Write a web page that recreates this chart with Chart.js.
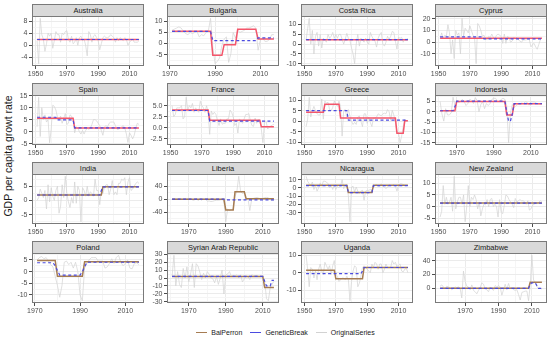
<!DOCTYPE html>
<html><head><meta charset="utf-8">
<script src="https://cdn.jsdelivr.net/npm/chart.js@4.4.1/dist/chart.umd.min.js"></script>
<style>
html,body{margin:0;padding:0;background:#fff}
body{width:550px;height:344px;position:relative;overflow:hidden;font-family:"Liberation Sans",Arial,sans-serif}
.strip{position:absolute;background:#d9d9d9;border:1px solid #7a7a7a;box-sizing:border-box;font-size:7.5px;line-height:11px;color:#1a1a1a;text-align:center;white-space:nowrap}
canvas{position:absolute}
#ytitle{position:absolute;left:8px;top:156px;transform:translate(-50%,-50%) rotate(-90deg);font-size:10.5px;color:#1a1a1a;white-space:nowrap}
#legend{position:absolute;left:32px;width:515px;top:329px;display:flex;justify-content:center;align-items:center;font-size:7px;color:#1a1a1a}
#legend .k{display:inline-block;width:11px;height:1.3px;margin-right:4px}
#legend .it{display:flex;align-items:center;margin-right:8px}
</style></head>
<body>
<div id="ytitle">GDP per capita growt rate</div>
<div id="legend"></div>
<script>
// ---------- DATA ----------
const countries = ["Australia","Bulgaria","Costa Rica","Cyprus","Spain","France","Greece","Indonesia","India","Liberia","Nicaragua","New Zealand","Poland","Syrian Arab Republic","Uganda","Zimbabwe"];
const firstYears = [1951,1971,1951,1951,1951,1951,1951,1961,1951,1961,1951,1951,1971,1961,1951,1955];
const xTickYears = [1950,1970,1990,2010];

const australia = [1.5,-6.1,8.9,3.5,2.0,-2.0,0.5,4.0,3.0,4.0, -1.0,1.5,4.5,3.5,3.5,1.0,4.0,3.5,4.5,4.8, 2.0,1.0,3.0,0.5,1.0,2.5,0.0,2.5,3.0,1.5, 2.0,0.0,-3.5,4.5,3.5,1.0,3.0,3.5,2.5,1.5, -1.5,0.5,2.5,3.0,2.5,2.5,2.8,3.5,3.0,2.5, 1.0,2.5,1.5,2.5,2.0,1.5,2.5,2.0,0.0,1.0, 1.5,2.0,1.0,1.0,1.0,1.5];
const bulgaria = [6.0,6.5,7.0,7.5,7.0,5.5,4.5,4.0,5.0,4.5, 5.0,5.5,3.0,4.0,3.5,5.0,5.5,11.4,-1.5,-9.1, -8.0,-6.5,-1.0,2.0,3.0,-8.5,-4.5,5.0,2.5,6.0, 5.0,5.5,6.0,7.0,7.0,7.5,8.0,7.0,-3.0,1.5, 2.5,1.0,1.0,1.8,4.0,4.0];
const costaRica = [2.0,8.0,13.2,0.0,7.0,-5.0,4.0,6.0,-1.0,5.0, -2.0,3.0,2.0,1.0,5.0,3.0,4.0,6.0,3.0,5.0, 3.0,5.0,5.0,2.5,0.0,2.5,5.5,3.0,2.0,-2.0, -5.0,-10.0,0.0,5.0,-1.0,3.0,2.0,1.0,3.0,1.0, 0.0,6.0,4.0,2.5,1.5,-1.5,3.0,5.0,6.0,0.0, -1.0,1.0,4.0,2.5,4.0,6.5,6.0,1.5,-2.5,3.5, 3.0,3.5,1.0,2.5,2.5,3.0];
const cyprus = [3.0,8.0,3.0,6.0,5.0,15.0,8.0,-10.0,2.0,-14.0, 10.0,6.0,8.0,-10.0,20.5,5.0,12.0,10.0,8.0,14.0, 10.0,6.0,4.0,-18.4,16.0,14.0,10.0,5.0,6.0,3.0, 2.0,5.0,4.0,7.0,4.0,3.0,6.0,7.0,6.0,5.0, -1.0,7.0,-1.0,5.0,4.0,0.0,1.0,4.0,3.0,4.0, 2.0,1.0,0.0,2.0,2.0,2.0,3.0,2.0,-4.0,-2.0, -1.0,-4.0,-6.0,-2.0,2.0,4.0];
const spain = [2.0,14.3,-2.0,10.0,5.0,7.0,4.0,5.0,-4.6,1.0, 11.0,10.5,9.0,6.0,5.0,6.5,3.5,5.5,7.5,3.0, 3.5,7.0,6.5,4.5,-0.5,2.0,1.5,0.0,-1.0,0.5, -1.0,0.5,1.5,1.0,1.5,3.0,5.0,5.0,4.5,3.5, 2.5,0.5,-1.5,2.0,2.5,2.0,3.5,4.0,4.0,4.0, 2.5,1.0,1.0,1.5,2.0,2.5,1.5,-1.0,-4.5,-0.5, -1.5,-3.0,-1.5,1.5,3.5,3.0];
const france = [5.0,2.5,3.0,4.5,4.5,4.5,5.0,2.0,2.5,6.9, 4.0,5.0,4.5,5.5,3.5,4.5,4.0,3.5,6.0,5.0, 4.5,3.5,5.0,3.5,-1.5,3.8,3.0,3.5,3.0,1.5, 0.5,2.0,0.8,1.0,1.0,2.0,2.0,4.0,3.5,2.5, 0.5,1.0,-1.2,2.0,1.5,1.0,2.0,3.0,3.0,3.2, 1.5,0.5,0.3,2.2,1.0,1.8,1.8,-0.5,-3.4,1.5, 1.5,-0.3,0.1,0.4,0.6,0.8];
const greece = [-2.5,1.0,11.3,2.0,5.0,7.0,5.0,3.5,3.0,3.0, 10.5,1.0,9.5,8.5,9.0,5.5,5.0,6.5,9.5,8.0, 7.0,9.5,7.0,-7.0,5.0,5.5,2.0,5.5,2.5,0.0, -1.5,-0.5,-1.5,2.0,2.5,0.0,-2.5,3.5,3.5,-1.0, 2.0,-0.5,-2.5,1.5,1.5,2.0,3.5,3.0,2.5,3.5, 3.8,3.5,5.5,4.5,0.5,5.2,3.0,-0.5,-4.5,-5.5, -10.1,-7.0,-2.5,1.0,0.0,0.0];
const indonesia = [5.0,-1.0,-4.5,1.5,-1.5,-1.5,-0.5,7.0,3.0,5.5, 4.5,5.0,6.0,5.0,3.0,4.0,6.0,5.5,4.0,6.8, 5.5,0.0,3.5,5.0,1.5,4.0,3.0,4.0,6.0,6.5, 6.5,5.0,5.0,6.0,6.5,6.0,3.0,-14.9,-0.5,3.5, 2.0,3.0,3.5,3.5,4.2,4.0,4.8,4.6,3.2,4.8, 4.8,4.7,4.2,3.6,3.5,3.7];
const india = [0.0,1.0,4.0,2.5,1.0,3.5,-3.0,5.5,-0.5,4.5, 1.5,0.0,3.5,5.0,-4.5,-2.0,5.5,1.0,8.5,2.5, -0.5,-2.5,1.0,-1.0,6.5,-1.0,5.0,3.5,-7.5,4.5, 3.5,1.5,5.0,1.5,3.0,2.5,1.5,7.5,3.5,3.5, -1.5,3.5,2.5,4.5,5.5,5.5,2.0,4.0,7.0,2.0, 3.0,2.0,6.0,6.0,7.5,7.0,8.0,2.0,6.5,8.0, 3.5,4.0,5.0,6.0,6.5,6.0];
const liberia = [2,1,3,0,1,2,0,1,3,2, 1,-2,-3,3,-4,1,-3,2,1,-6, -5,-7,-6,-4,-3,-3,-2,-1,-5,-70, -30,-35,-32,-32,8,25,72,25,18,20, 0,2,-35,0,3,5,6,3,2,3, 5,6,5,-2,-3,-4];
const nicaragua = [14,8,5,3,7,-2,3,-4,0,6, 2,8,8,7,5,0,3,-2,3,-2, 2,0,2,10,-1,3,4,-10,-41,1, 2,-5,1,-4,-7,-4,-3,-15,-4,-3, -3,-2,-3,1,3,4,2,2,5,2, 1,-1,1,4,3,3,4,2,-4,3, 5,5,4,3,3,3];
const newZealand = [-4.5,-2,9,1,4,1,2,4,-2,13, -1,2,4,4,1,5,-6.5,0,9,0, 4,3,5,3,-1,2,-4,-1,1,1, 3,0,3,3.5,0,1,0,-4.5,3,-2.5, -3,0.5,5,4.5,3,2,1,-0.5,3.5,2, 2.5,3,2.5,2.5,2,1,2.5,-1.5,-1,0.5, 1,1.5,1.5,1.8,2.5,2];
const poland = [5,6,6.5,5.5,6,4.5,3,2,-2,-6, -11,-6,4,4.5,3,4,1.5,4,0,-10, -12.5,1.5,3.5,5,6,6,6,4.5,4.5,4.5, 1.5,2,3.5,5.5,3.5,6,7,4,2.5,3.5, 5,1.5,1.2,3.5,3.8,3];
const syria = [2,28.5,-10,8,-8,-12,12,0,14,-5, 5,18,-12,18,15,7,-2,6,0,8, 5,0,-1,-6,2,-8,0,10,-20,4, 5,8,2,3,2,4,0,4,-5,-1, 2,2,-2,4,3,3,3,2,3,1, -4,-26,-28.5,-12,-8,-4];
const uganda = [10,2,-8,3,2,-3,1,-4,2,5, 1,-1,6,4,2,4,-1,4,7,-1, -2,-5,-4,-3,-3,-4,-2,-4,-16,-5, 1,4,3,-8,-6,-2,3,4,3,2, 1,0,5,3,6,5,2,5,5,0, 2,5,3,3,3,7,5,6,3.5,4.5, 5,1,0.5,2,2.5,0];
const zimbabwe = [3,5,2,-1,3,2,1,-2,0,2, 1,2,0,-14,25,10,3,2,-2,5, -3,-5,-8,-3,1,8,6,-1,-2,-5, 2,-1,-3,4,2,4,2,-10,-2,6, -2,7,0,1,-2,-3,-2,-9,-17,-6, -5,-4,-4,-18,5,48,12,9,2,1, 0,-1];

// break segments: [fromYear, toYear, level]
const australiaBP = [[1951,2016,1.9]];            const australiaGB = [[1951,2016,1.9]];
const bulgariaBP = [[1971,1988,5.5],[1989,1993,-5.3],[1994,1999,-0.5],[2000,2008,6.5],[2009,2016,2.0]];
const bulgariaGB = [[1971,1988,5.5],[1989,2008,1.3],[2009,2016,2.6]];
const costaRicaBP = [[1951,2016,2.3]];            const costaRicaGB = [[1951,2016,2.3]];
const cyprusBP = [[1951,2016,3.5]];               const cyprusGB = [[1951,1978,4.6],[1979,2016,2.8]];
const spainBP = [[1951,1974,5.6],[1975,2016,1.5]];
const spainGB = [[1951,1963,6.0],[1964,1974,4.9],[1975,2016,1.6]];
const franceBP = [[1951,1974,4.0],[1975,2007,1.7],[2008,2016,0.2]];
const franceGB = [[1951,1974,3.9],[1975,2016,1.5]];
const greeceBP = [[1951,1962,4.2],[1963,1972,8.0],[1973,2008,1.5],[2009,2013,-5.6],[2014,2016,0.3]];
const greeceGB = [[1951,1977,5.0],[1978,2016,0.5]];
const indonesiaBP = [[1961,1969,0.5],[1970,1996,5.0],[1997,2000,-1.5],[2001,2016,3.9]];
const indonesiaGB = [[1961,1968,0.5],[1969,1969,2.5],[1970,1996,5.1],[1997,1997,0],[1998,1999,-4.5],[2000,2000,-1],[2001,2016,3.9]];
const indiaBP = [[1951,1992,1.9],[1993,2016,4.8]];
const indiaGB = [[1951,1991,1.9],[1992,1992,3.5],[1993,2016,4.8]];
const liberiaBP = [[1961,1989,0],[1990,1994,-33],[1995,2000,24],[2001,2016,2]];
const liberiaGB = [[1961,1989,0.5],[1990,2016,-1.5]];
const nicaraguaBP = [[1951,1977,3],[1978,1993,-5.5],[1994,2016,3]];
const nicaraguaGB = [[1951,1977,2.7],[1978,1993,-5.8],[1994,2016,2.8]];
const newZealandBP = [[1951,2016,1.5]];           const newZealandGB = [[1951,2016,1.5]];
const polandBP = [[1971,1979,4.8],[1980,1991,-2],[1992,2016,4.2]];
const polandGB = [[1971,1978,3.8],[1979,1979,2.5],[1980,1980,0.5],[1981,1990,-1.5],[1991,1991,0],[1992,1992,2],[1993,2016,4.0]];
const syriaBP = [[1961,2010,2],[2011,2016,-12]];
const syriaGB = [[1961,2010,2],[2011,2011,-4],[2012,2014,-10],[2015,2016,-3]];
const ugandaBP = [[1951,1969,1.5],[1970,1987,-3.5],[1988,2016,3]];
const ugandaGB = [[1951,1986,-0.5],[1987,1987,1],[1988,2016,3]];
const zimbabweBP = [[1955,2008,0],[2009,2016,9]];
const zimbabweGB = [[1955,2008,0],[2009,2009,6],[2010,2012,8],[2013,2013,4],[2014,2016,0]];

// y tick labels per panel
const yTicksAustralia = [-4,0,4,8];
const yTicksBulgaria = [-5,0,5,10];
const yTicksCostaRica = [-10,-5,0,5,10];
const yTicksCyprus = [-10,0,10,20];
const yTicksSpain = [-5,0,5,10,15];
const yTicksFrance = [-2.5,0,2.5,5];
const yTicksGreece = [-10,-5,0,5,10];
const yTicksIndonesia = [-15,-10,-5,0,5];
const yTicksIndia = [-5,0,5];
const yTicksLiberia = [-40,0,40];
const yTicksNicaragua = [-30,-20,-10,0,10];
const yTicksNewZealand = [-5,0,5,10];
const yTicksPoland = [-10,-5,0,5];
const yTicksSyria = [-30,-20,-10,0,10,20,30];
const yTicksUganda = [-10,0,10];
const yTicksZimbabwe = [0,20,40];

const seriesList = [australia,bulgaria,costaRica,cyprus,spain,france,greece,indonesia,india,liberia,nicaragua,newZealand,poland,syria,uganda,zimbabwe];
const bpList = [australiaBP,bulgariaBP,costaRicaBP,cyprusBP,spainBP,franceBP,greeceBP,indonesiaBP,indiaBP,liberiaBP,nicaraguaBP,newZealandBP,polandBP,syriaBP,ugandaBP,zimbabweBP];
const gbList = [australiaGB,bulgariaGB,costaRicaGB,cyprusGB,spainGB,franceGB,greeceGB,indonesiaGB,indiaGB,liberiaGB,nicaraguaGB,newZealandGB,polandGB,syriaGB,ugandaGB,zimbabweGB];
const yTickList = [yTicksAustralia,yTicksBulgaria,yTicksCostaRica,yTicksCyprus,yTicksSpain,yTicksFrance,yTicksGreece,yTicksIndonesia,yTicksIndia,yTicksLiberia,yTicksNicaragua,yTicksNewZealand,yTicksPoland,yTicksSyria,yTicksUganda,yTicksZimbabwe];

// ---------- STYLE / LAYOUT ----------
const FONT = '"Liberation Sans", Arial, sans-serif';
const colLeft = [32,167,301,435];
const stripTop = [4,83,162,241];
const PW = 112, PH = 50, SH = 12, YW = 30, XH = 16, PADT = 6, PADR = 8;
const redBP = '#f4566b', brownBP = '#a67c52', blueGB = '#4b4be0', greyOS = '#d2d2d2';

const panelBorder = {
  id:'panelBorder',
  afterDraw(chart){
    const {ctx, chartArea:a} = chart;
    ctx.save(); ctx.strokeStyle='#7a7a7a'; ctx.lineWidth=1;
    ctx.strokeRect(Math.round(a.left)+0.5, Math.round(a.top)+0.5, Math.round(a.right-a.left)-1, Math.round(a.bottom-a.top)-1);
    ctx.restore();
  }
};

function expand(segs){
  const pts=[];
  segs.forEach(s=>{ for(let y=s[0]; y<=s[1]; y++) pts.push({x:y, y:s[2]}); });
  return pts;
}

function minorBetween(major, lo, hi){
  const step = major[1]-major[0];
  const all = [];
  for(let v = major[0]-step/2; v <= major[major.length-1]+step/2+1e-9; v += step/2){
    const r = Math.round(v*1000)/1000;
    if(r>=lo && r<=hi) all.push(r);
  }
  return all;
}

countries.forEach((name,i)=>{
  const r = Math.floor(i/4), c = i%4;
  const vals = seriesList[i];
  const y0 = firstYears[i], y1 = y0 + vals.length - 1;
  const orig = vals.map((v,k)=>({x:y0+k, y:v}));
  const bp = expand(bpList[i]), gb = expand(gbList[i]);
  const allY = vals.concat(bp.map(p=>p.y), gb.map(p=>p.y));
  const lo = Math.min(...allY), hi = Math.max(...allY);
  const ymin = lo - 0.05*(hi-lo), ymax = hi + 0.05*(hi-lo);
  const xmin = y0 - 0.05*(y1-y0), xmax = y1 + 0.05*(y1-y0);
  const yMaj = yTickList[i];
  const yAll = minorBetween(yMaj, ymin, ymax);
  const xAll = [1940,1950,1960,1970,1980,1990,2000,2010,2020].filter(v=>v>=xmin && v<=xmax);
  const dec = yMaj.some(v=>!Number.isInteger(v));
  const isYMaj = v => yMaj.some(m=>Math.abs(m-v)<1e-9);
  const isXMaj = v => xTickYears.includes(v);

  const strip = document.createElement('div');
  strip.className='strip'; strip.textContent=name;
  strip.style.left=colLeft[c]+'px'; strip.style.top=stripTop[r]+'px';
  strip.style.width=PW+'px'; strip.style.height=(SH+1)+'px';
  document.body.appendChild(strip);

  const cv = document.createElement('canvas');
  const W = YW+PW+PADR, H = PADT+PH+XH;
  cv.width=W; cv.height=H; cv.style.width=W+'px'; cv.style.height=H+'px';
  cv.style.left=(colLeft[c]-YW)+'px'; cv.style.top=(stripTop[r]+SH-PADT)+'px';
  document.body.appendChild(cv);

  const bpColor = r<2 ? redBP : brownBP;
  new Chart(cv, {
    type:'line',
    data:{datasets:[
      {label:'GeneticBreak', data:gb, borderColor:blueGB, borderWidth:1.2, borderDash:[3,2.5], pointRadius:0, fill:false},
      {label:'BaiPerron', data:bp, borderColor:bpColor, borderWidth:1.5, pointRadius:0, fill:false},
      {label:'OriginalSeries', data:orig, borderColor:greyOS, borderWidth:0.7, pointRadius:0, fill:false}
    ]},
    options:{
      responsive:false, animation:false, devicePixelRatio:1,
      layout:{padding:{top:PADT,right:PADR,left:0,bottom:0}},
      plugins:{legend:{display:false}, tooltip:{enabled:false}},
      scales:{
        x:{type:'linear', min:xmin, max:xmax,
          afterBuildTicks:s=>{s.ticks = xAll.map(v=>({value:v}));},
          afterFit:s=>{s.height=XH;},
          border:{display:false},
          grid:{color:ctx=>isXMaj(ctx.tick.value)?'#ebebeb':'#f5f5f5', lineWidth:1, tickLength:3,
                tickColor:ctx=>isXMaj(ctx.tick.value)?'#4d4d4d':'rgba(0,0,0,0)'},
          ticks:{autoSkip:false, maxRotation:0, padding:1, color:'#4d4d4d', font:{size:7, family:FONT},
                 callback:v=>isXMaj(v)?String(v):''}
        },
        y:{type:'linear', min:ymin, max:ymax,
          afterBuildTicks:s=>{s.ticks = yAll.map(v=>({value:v}));},
          afterFit:s=>{s.width=YW;},
          border:{display:false},
          grid:{color:ctx=>isYMaj(ctx.tick.value)?'#ebebeb':'#f5f5f5', lineWidth:1, tickLength:3,
                tickColor:ctx=>isYMaj(ctx.tick.value)?'#4d4d4d':'rgba(0,0,0,0)'},
          ticks:{autoSkip:false, padding:1.5, color:'#4d4d4d', font:{size:7, family:FONT},
                 callback:v=>isYMaj(v)?(dec?v.toFixed(1):String(v)):''}
        }
      }
    },
    plugins:[panelBorder]
  });
});

// legend
const legendItems = [['BaiPerron',brownBP],['GeneticBreak',blueGB],['OriginalSeries',greyOS]];
const lg = document.getElementById('legend');
legendItems.forEach(([t,col])=>{
  const it=document.createElement('span'); it.className='it';
  const k=document.createElement('span'); k.className='k'; k.style.background=col;
  const tx=document.createElement('span'); tx.textContent=t;
  it.appendChild(k); it.appendChild(tx); lg.appendChild(it);
});
</script>
</body></html>
